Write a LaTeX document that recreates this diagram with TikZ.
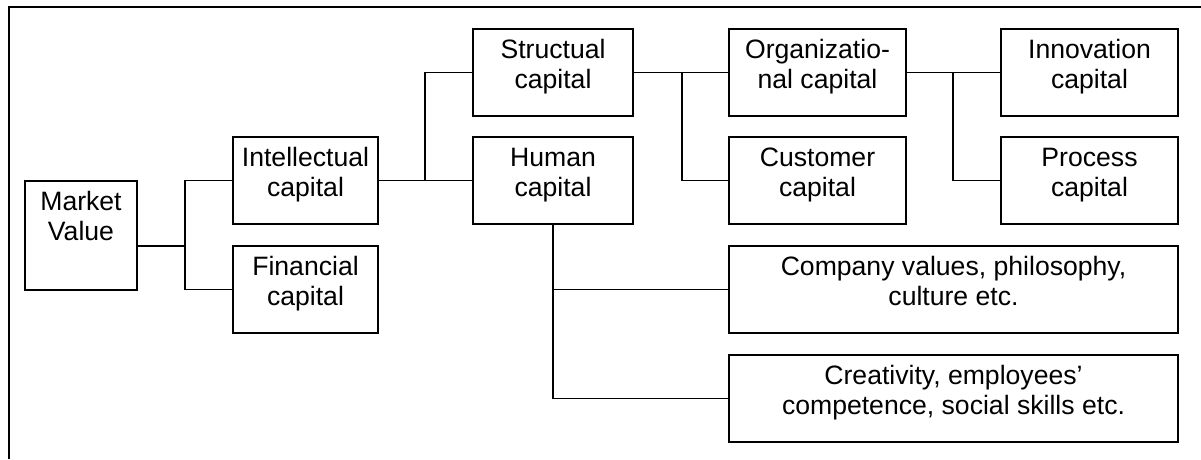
\documentclass[tikz,border=0pt]{standalone}
\usepackage{fontspec}
\setmainfont{Liberation Sans}
\begin{document}
\begin{tikzpicture}[x=1pt,y=-1pt,
  cbox/.style={draw=black, line width=1.8pt, inner sep=0pt, rectangle,
    font=\fontsize{26.6}{30}\selectfont},
  conn/.style={draw=black, line width=1.7pt},
  frame/.style={draw=black, line width=1.7pt}]
\useasboundingbox (0,0) rectangle (1201,459);
\newcommand\cbx[6]{\node[cbox] (#1) at ({(#2+#4)/2},{(#3+#5)/2})
  {\parbox[c][\dimexpr #5pt-#3pt\relax][t]{\dimexpr #4pt-#2pt\relax}{\centering\rule{0pt}{29pt}#6}};}
% frame
\coordinate (fbl) at (9,459);
\coordinate (ftl) at (9,7);
\coordinate (ftr) at (1201,7);
\draw[frame] (fbl) -- (ftl) -- (ftr);
% boxes
\cbx{mv}{25}{181}{137}{290}{Market\\Value}
\cbx{ic}{233}{137}{378}{224}{Intellectual\\capital}
\cbx{fc}{233}{246}{378}{333}{Financial\\capital}
\cbx{sc}{473}{29}{633}{116}{Structual\\capital}
\cbx{hc}{473}{137}{633}{224}{Human\\capital}
\cbx{oc}{729}{29}{906}{116}{Organizatio-\\nal capital}
\cbx{cc}{729}{137}{906}{224}{Customer\\capital}
\cbx{inn}{1001}{29}{1178}{116}{Innovation\\capital}
\cbx{pc}{1001}{137}{1178}{224}{Process\\capital}
\cbx{cv}{729}{246}{1178}{333}{Company values, philosophy,\\culture etc.}
\cbx{cr}{729}{355}{1178}{442}{Creativity, employees'\\competence, social skills etc.}
% junctions
\coordinate (j1) at (185,246);
\coordinate (j2) at (425,180.5);
\coordinate (j3) at (682,72.5);
\coordinate (j4) at (953,72.5);
% connectors
\draw[conn] (mv.east |- j1) -- (j1);
\draw[conn] (ic.west) -| (j1) |- (fc.west);
\draw[conn] (ic.east) -- (hc.west);
\draw[conn] (sc.west) -| (j2);
\draw[conn] (sc.east) -- (oc.west);
\draw[conn] (j3) |- (cc.west);
\draw[conn] (oc.east) -- (inn.west);
\draw[conn] (j4) |- (pc.west);
\draw[conn] (hc.south) -- (hc.south |- cr.west) -- (cr.west);
\draw[conn] (hc.south |- cv.west) -- (cv.west);
\end{tikzpicture}
\end{document}
